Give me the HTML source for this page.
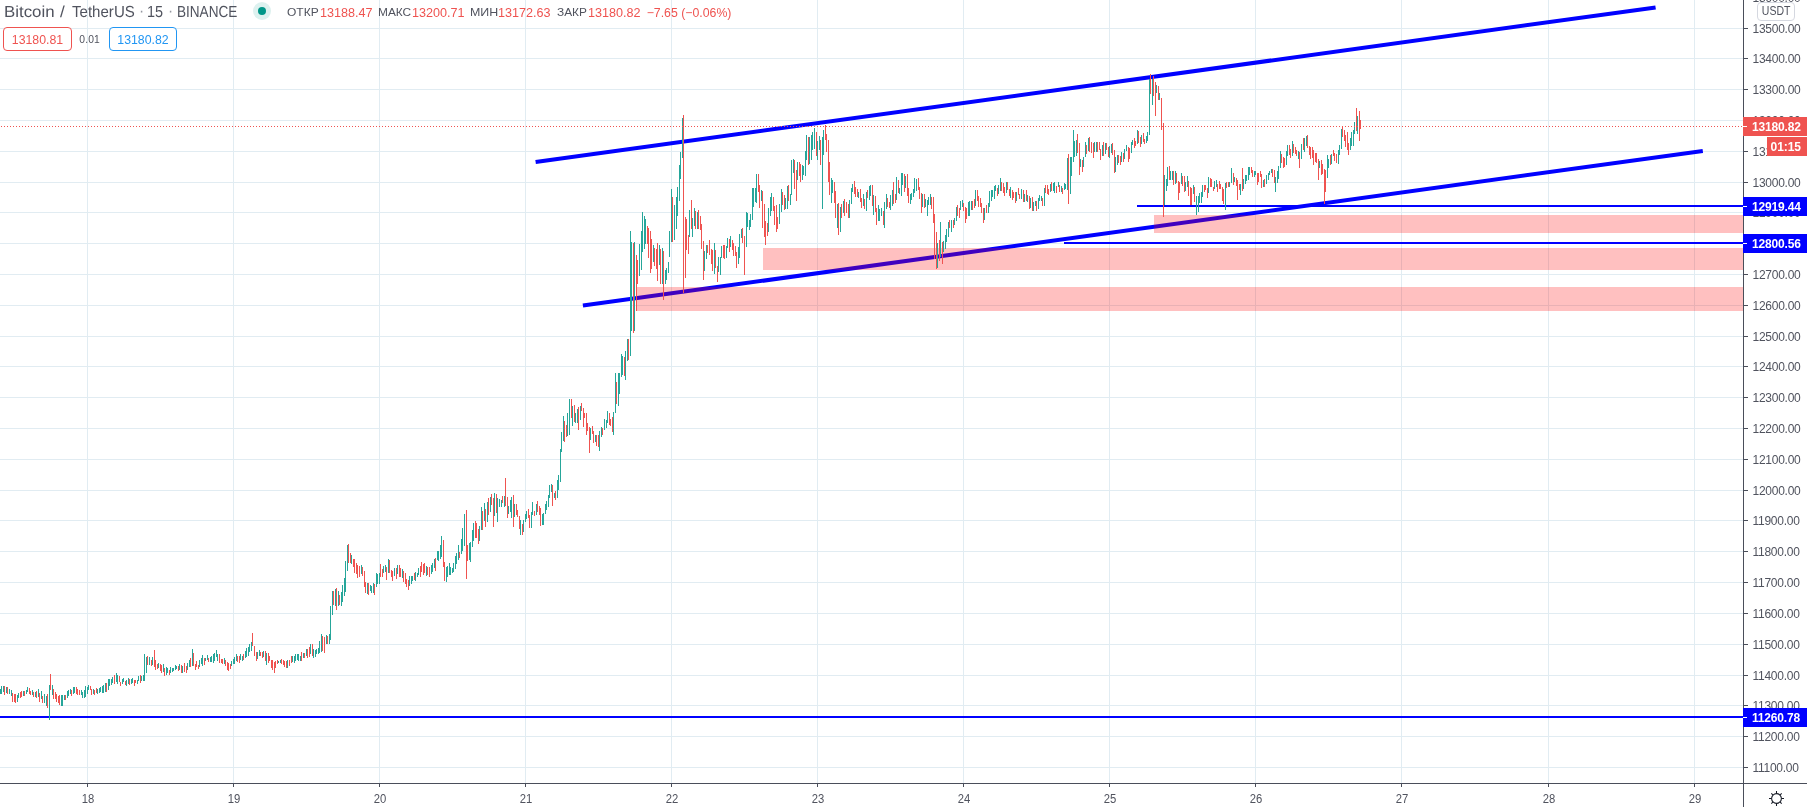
<!DOCTYPE html>
<html><head><meta charset="utf-8"><title>BTCUSDT</title>
<style>
html,body{margin:0;padding:0;background:#fff;}
body{width:1807px;height:807px;overflow:hidden;position:relative;font-family:"Liberation Sans",sans-serif;}
.pl{position:absolute;left:1752.5px;height:14px;line-height:14px;font-size:12px;color:#50535e;letter-spacing:-0.26px;white-space:nowrap;}
.tl{position:absolute;top:791.5px;width:40px;margin-left:-20px;text-align:center;height:14px;line-height:14px;font-size:12px;color:#50535e;white-space:nowrap;transform:scaleX(0.94);}
.lab{position:absolute;left:1743px;width:64px;height:19px;line-height:21px;font-size:12px;font-weight:bold;color:#fff;white-space:nowrap;box-sizing:border-box;padding-left:9px;letter-spacing:-0.17px;overflow:hidden;}
.lab i{position:absolute;left:0px;top:9px;width:4px;height:1px;background:#fff;}
.h{position:absolute;white-space:nowrap;}
</style></head><body><div id="root" style="position:absolute;left:0;top:0;width:1807px;height:807px;will-change:transform;opacity:0.999">
<svg width="1807" height="807" viewBox="0 0 1807 807" style="position:absolute;left:0;top:0">
<path d="M0 767.5H1743M0 736.5H1743M0 705.5H1743M0 675.5H1743M0 644.5H1743M0 613.5H1743M0 582.5H1743M0 551.5H1743M0 520.5H1743M0 490.5H1743M0 459.5H1743M0 428.5H1743M0 397.5H1743M0 366.5H1743M0 336.5H1743M0 305.5H1743M0 274.5H1743M0 243.5H1743M0 212.5H1743M0 182.5H1743M0 151.5H1743M0 120.5H1743M0 89.5H1743M0 58.5H1743M0 28.5H1743M87.5 0V783M233.5 0V783M379.5 0V783M525.5 0V783M671.5 0V783M817.5 0V783M963.5 0V783M1109.5 0V783M1255.5 0V783M1401.5 0V783M1548.5 0V783M1694.5 0V783" stroke="#e1ecf2" stroke-width="1" fill="none" shape-rendering="crispEdges"/>
<g stroke="#0000ff" fill="none">
<line x1="535.6" y1="162.1" x2="1655.6" y2="7.4" stroke-width="4"/>
<line x1="582.9" y1="305.6" x2="1702.8" y2="150.9" stroke-width="4"/>
<path d="M1137 206H1743M1064 243H1743M0 717H1743" stroke-width="2" shape-rendering="crispEdges"/>
</g>
<g fill="rgba(255,0,0,0.25)" shape-rendering="crispEdges">
<rect x="1154" y="215" width="589" height="18"/>
<rect x="763" y="248" width="980" height="22"/>
<rect x="636" y="287" width="1107" height="24"/>
</g>
<path d="M0.5 689V694M1.5 686V694M3.5 686V692M6.5 687V693M9.5 689V694M11.5 690V696M17.5 695V702M18.5 693V698M23.5 691V696M26.5 690V694M27.5 687V692M32.5 690V695M35.5 692V697M38.5 689V697M41.5 691V699M44.5 694V703M46.5 696V706M49.5 685V720M52.5 685V695M61.5 695V706M62.5 695V706M64.5 695V700M67.5 691V698M68.5 690V696M70.5 689V694M73.5 687V694M74.5 687V693M81.5 690V695M82.5 692V698M84.5 690V698M85.5 686V697M87.5 687V694M88.5 685V690M93.5 689V694M97.5 689V694M99.5 688V693M100.5 687V692M102.5 686V693M103.5 685V693M105.5 683V692M108.5 679V690M109.5 679V686M111.5 679V685M112.5 677V683M116.5 673V682M117.5 675V684M122.5 679V684M123.5 678V682M126.5 680V686M128.5 678V684M131.5 679V684M132.5 678V683M137.5 680V684M138.5 676V681M141.5 676V681M143.5 675V681M144.5 654V681M146.5 657V673M149.5 657V665M152.5 657V665M158.5 663V668M163.5 664V672M166.5 667V675M167.5 668V673M170.5 667V673M172.5 668V672M173.5 668V671M175.5 665V670M176.5 666V669M179.5 664V670M182.5 666V673M187.5 663V670M189.5 660V667M192.5 649V666M199.5 660V667M201.5 658V664M202.5 655V666M205.5 658V661M207.5 655V660M210.5 657V662M211.5 656V662M213.5 654V663M214.5 653V661M216.5 650V657M217.5 654V661M224.5 658V664M231.5 661V666M233.5 659V664M234.5 657V664M236.5 654V661M240.5 654V660M242.5 656V661M245.5 651V658M246.5 648V657M248.5 647V656M249.5 644V652M251.5 642V651M257.5 652V659M259.5 650V656M263.5 651V657M266.5 653V665M278.5 661V663M280.5 660V663M287.5 660V668M292.5 656V662M294.5 656V663M295.5 654V661M297.5 654V660M298.5 654V661M300.5 656V661M303.5 653V658M306.5 649V656M310.5 644V654M313.5 649V658M315.5 650V657M316.5 649V654M318.5 648V654M319.5 641V653M321.5 634V652M326.5 635V644M329.5 634V644M330.5 606V640M332.5 591V615M335.5 589V606M338.5 591V606M341.5 592V606M342.5 585V602M344.5 578V596M345.5 561V592M347.5 545V571M351.5 555V564M361.5 565V574M367.5 583V594M370.5 585V591M371.5 586V593M373.5 583V593M376.5 573V587M377.5 574V584M379.5 573V584M383.5 566V573M385.5 565V572M388.5 559V573M394.5 568V576M397.5 565V574M402.5 569V578M409.5 576V586M411.5 576V584M412.5 576V581M415.5 572V581M417.5 573V577M418.5 568V575M426.5 566V576M431.5 565V574M432.5 563V572M434.5 559V568M437.5 551V560M438.5 551V561M440.5 545V559M441.5 536V557M446.5 567V582M447.5 566V577M449.5 563V575M450.5 567V575M452.5 568V573M453.5 563V572M455.5 556V569M456.5 553V564M458.5 545V560M461.5 539V554M462.5 528V551M464.5 514V546M469.5 543V560M470.5 542V562M472.5 530V547M473.5 523V541M479.5 526V541M481.5 507V530M484.5 503V521M487.5 502V522M490.5 497V512M494.5 493V516M497.5 498V522M499.5 499V507M501.5 500V507M504.5 496V507M508.5 506V514M510.5 500V512M511.5 497V518M514.5 504V517M520.5 520V535M523.5 520V532M525.5 514V522M526.5 511V519M531.5 512V528M532.5 502V515M536.5 504V515M542.5 514V525M543.5 513V525M545.5 504V514M546.5 501V510M548.5 495V507M549.5 485V498M551.5 484V492M554.5 493V498M557.5 480V498M558.5 475V490M560.5 449V482M561.5 432V452M563.5 416V441M567.5 413V436M569.5 399V435M572.5 406V426M575.5 413V423M577.5 409V423M580.5 406V420M590.5 428V440M595.5 435V442M599.5 431V451M601.5 427V437M604.5 419V430M606.5 420V428M607.5 411V423M613.5 412V435M615.5 373V413M618.5 373V406M619.5 373V394M621.5 354V377M622.5 356V375M625.5 351V380M627.5 339V361M630.5 231V356M631.5 242V331M634.5 242V331M639.5 244V276M641.5 231V270M642.5 212V252M644.5 216V249M645.5 219V244M653.5 245V262M659.5 245V265M662.5 248V284M665.5 270V284M666.5 268V280M668.5 262V273M669.5 231V257M671.5 189V242M674.5 205V240M676.5 197V229M677.5 187V216M679.5 165V201M680.5 152V179M682.5 118V158M689.5 210V237M692.5 218V237M694.5 208V226M697.5 212V229M704.5 251V271M706.5 245V259M714.5 243V274M718.5 257V272M720.5 257V275M721.5 246V258M726.5 246V258M727.5 238V248M730.5 236V247M738.5 247V264M739.5 234V258M741.5 229V238M746.5 212V247M747.5 213V227M749.5 220V230M750.5 214V227M752.5 188V220M753.5 188V207M755.5 188V202M756.5 174V203M761.5 190V201M768.5 208V232M770.5 197V216M771.5 193V211M779.5 204V224M781.5 189V212M785.5 198V209M787.5 186V209M790.5 194V205M791.5 160V195M793.5 159V173M797.5 162V180M802.5 165V180M803.5 166V175M805.5 151V176M806.5 135V160M809.5 137V164M811.5 135V160M812.5 132V150M814.5 128V149M817.5 141V160M819.5 136V150M822.5 137V209M823.5 130V155M831.5 178V203M832.5 180V193M837.5 204V228M840.5 207V232M843.5 201V213M849.5 200V218M851.5 188V204M852.5 184V192M858.5 192V198M863.5 194V206M866.5 192V211M869.5 186V200M870.5 185V196M873.5 195V215M878.5 205V221M879.5 209V221M881.5 208V216M884.5 202V228M886.5 194V209M890.5 195V210M892.5 190V206M896.5 177V200M899.5 188V194M901.5 173V196M902.5 173V185M905.5 176V188M910.5 194V204M911.5 193V200M913.5 189V197M914.5 178V193M916.5 179V191M922.5 194V207M925.5 199V207M927.5 200V216M928.5 197V205M930.5 194V205M937.5 243V268M940.5 222V257M943.5 241V252M945.5 235V249M946.5 229V242M948.5 222V237M951.5 220V232M954.5 218V225M956.5 207V221M960.5 201V210M962.5 200V207M968.5 202V216M969.5 201V216M971.5 201V210M975.5 190V206M984.5 208V220M988.5 203V213M989.5 191V207M991.5 190V201M992.5 190V197M994.5 186V199M995.5 185V191M998.5 185V194M1000.5 178V191M1006.5 182V193M1010.5 187V198M1016.5 192V201M1021.5 189V199M1024.5 194V202M1027.5 195V202M1030.5 198V208M1033.5 202V211M1035.5 201V206M1038.5 198V209M1039.5 195V201M1041.5 196V201M1044.5 188V206M1050.5 184V192M1053.5 183V191M1054.5 182V193M1058.5 182V187M1061.5 186V192M1064.5 183V190M1065.5 184V189M1067.5 158V190M1070.5 157V194M1071.5 157V176M1073.5 130V162M1074.5 141V157M1076.5 140V156M1080.5 159V167M1083.5 157V167M1085.5 142V157M1088.5 138V151M1094.5 142V152M1096.5 142V152M1102.5 145V156M1105.5 143V154M1109.5 146V158M1111.5 144V153M1115.5 157V172M1117.5 155V165M1121.5 152V162M1124.5 149V159M1126.5 145V151M1131.5 142V153M1132.5 140V145M1137.5 130V144M1141.5 135V144M1146.5 136V143M1147.5 132V141M1149.5 79V135M1152.5 79V105M1156.5 85V93M1159.5 93V100M1164.5 175V205M1166.5 179V191M1167.5 167V186M1170.5 171V180M1172.5 171V180M1175.5 171V184M1181.5 173V184M1185.5 182V191M1187.5 176V187M1193.5 185V194M1196.5 196V215M1198.5 196V212M1199.5 193V203M1201.5 192V203M1202.5 185V197M1208.5 177V193M1214.5 181V189M1216.5 180V187M1225.5 183V210M1229.5 182V187M1231.5 168V183M1234.5 177V182M1240.5 184V195M1243.5 179V189M1245.5 175V184M1246.5 175V181M1248.5 167V180M1249.5 167V175M1254.5 171V177M1255.5 171V175M1263.5 180V187M1266.5 175V184M1268.5 173V180M1269.5 171V175M1271.5 169V173M1275.5 177V192M1277.5 171V183M1278.5 166V179M1280.5 151V168M1286.5 151V165M1287.5 145V156M1292.5 141V156M1298.5 151V159M1301.5 144V159M1304.5 138V152M1306.5 136V146M1319.5 161V168M1327.5 155V178M1328.5 159V168M1331.5 154V164M1338.5 150V164M1339.5 145V155M1341.5 129V149M1350.5 138V150M1351.5 132V146M1353.5 130V146M1354.5 122V134M1357.5 116V134" stroke="#26a69a" stroke-width="1" fill="none" shape-rendering="crispEdges"/>
<path d="M4.5 686V695M7.5 687V694M12.5 693V702M14.5 694V702M15.5 694V703M20.5 692V698M21.5 691V697M24.5 691V696M29.5 688V694M30.5 691V695M33.5 692V697M36.5 691V698M39.5 693V702M42.5 696V703M47.5 694V708M50.5 674V690M53.5 689V699M55.5 692V699M56.5 694V702M58.5 696V703M59.5 695V705M65.5 695V700M71.5 690V696M76.5 687V694M77.5 689V695M79.5 690V695M90.5 686V690M91.5 689V695M94.5 690V695M96.5 688V693M106.5 683V692M114.5 675V684M119.5 676V682M120.5 682V686M125.5 681V685M129.5 679V685M134.5 680V686M135.5 680V683M140.5 675V683M147.5 656V665M151.5 660V666M154.5 650V667M155.5 660V670M157.5 664V669M160.5 664V671M161.5 665V673M164.5 668V676M169.5 670V675M178.5 666V671M181.5 665V673M184.5 663V672M186.5 666V673M190.5 658V667M193.5 653V666M195.5 664V670M196.5 661V667M198.5 665V669M204.5 658V665M208.5 658V662M219.5 654V663M221.5 659V663M222.5 659V664M225.5 660V666M227.5 662V670M228.5 663V671M230.5 664V669M237.5 656V662M239.5 656V663M243.5 654V660M252.5 633V646M254.5 646V656M256.5 652V661M260.5 652V656M262.5 652V658M265.5 651V661M268.5 653V663M269.5 656V661M271.5 660V668M272.5 660V670M274.5 662V673M275.5 661V668M277.5 660V664M281.5 659V664M283.5 660V665M284.5 661V667M286.5 661V668M289.5 660V666M291.5 656V663M301.5 652V661M304.5 653V658M307.5 649V658M309.5 647V657M312.5 644V656M322.5 636V651M324.5 637V653M327.5 636V644M333.5 591V605M336.5 588V610M339.5 595V605M348.5 544V563M350.5 553V563M353.5 559V567M354.5 559V573M356.5 563V574M357.5 565V578M359.5 566V577M362.5 567V576M364.5 571V587M365.5 582V593M368.5 583V595M374.5 584V595M380.5 564V577M382.5 569V577M386.5 567V580M389.5 560V573M391.5 570V577M392.5 571V581M396.5 568V579M399.5 565V577M400.5 568V577M403.5 571V582M405.5 573V584M406.5 579V587M408.5 580V590M414.5 573V580M420.5 566V577M421.5 562V572M423.5 564V575M424.5 563V573M427.5 567V575M429.5 567V577M435.5 558V571M443.5 540V567M444.5 562V581M459.5 552V558M466.5 510V579M467.5 545V561M475.5 521V538M476.5 523V538M478.5 529V544M482.5 511V530M485.5 509V527M488.5 498V515M491.5 494V505M493.5 498V527M496.5 494V513M502.5 496V503M505.5 478V506M507.5 497V518M513.5 495V527M516.5 504V515M517.5 510V517M519.5 516V529M522.5 524V535M528.5 509V518M529.5 515V528M534.5 511V516M537.5 501V512M539.5 506V515M540.5 508V526M552.5 485V506M555.5 491V500M564.5 421V442M566.5 425V437M571.5 399V418M574.5 405V422M578.5 407V430M581.5 403V411M583.5 408V427M584.5 413V418M586.5 413V435M587.5 423V431M589.5 427V453M592.5 426V434M593.5 431V443M596.5 435V446M598.5 435V447M602.5 428V435M609.5 413V425M610.5 419V426M612.5 417V432M616.5 382V404M624.5 357V376M628.5 339V360M633.5 243V333M636.5 255V311M637.5 260V284M647.5 226V244M648.5 228V258M650.5 231V273M651.5 239V269M654.5 248V266M656.5 249V269M657.5 243V281M660.5 249V284M663.5 251V300M672.5 197V242M683.5 115V293M685.5 217V278M686.5 219V250M688.5 235V254M691.5 200V229M695.5 211V229M698.5 210V229M700.5 216V230M701.5 224V249M703.5 241V280M707.5 245V253M709.5 240V255M711.5 249V264M712.5 250V271M715.5 250V268M717.5 266V282M723.5 245V258M724.5 245V259M729.5 239V252M732.5 240V250M733.5 243V256M735.5 246V256M736.5 252V268M742.5 228V243M744.5 236V275M758.5 174V192M759.5 185V208M762.5 191V228M764.5 204V237M765.5 221V245M767.5 223V236M773.5 197V211M774.5 206V225M776.5 205V232M777.5 217V229M782.5 192V205M784.5 195V210M788.5 185V201M794.5 160V189M796.5 170V201M799.5 162V176M800.5 164V182M808.5 137V165M816.5 132V156M820.5 140V165M825.5 125V140M826.5 134V152M828.5 140V182M829.5 162V195M834.5 182V203M835.5 191V218M838.5 203V235M841.5 204V218M844.5 199V216M846.5 202V213M848.5 204V218M854.5 181V194M855.5 187V197M857.5 189V197M860.5 189V202M861.5 198V208M864.5 199V209M867.5 190V198M872.5 185V206M875.5 196V212M876.5 208V225M883.5 211V225M887.5 198V207M889.5 202V208M893.5 182V204M895.5 194V203M898.5 180V193M904.5 174V192M907.5 174V196M908.5 188V203M918.5 178V190M919.5 187V199M921.5 193V213M924.5 194V208M931.5 197V209M933.5 197V223M934.5 214V259M936.5 232V269M939.5 240V261M942.5 242V264M949.5 220V228M953.5 220V228M957.5 205V216M959.5 208V218M963.5 203V211M965.5 207V223M966.5 208V219M972.5 201V210M974.5 199V208M977.5 190V201M978.5 196V207M980.5 198V207M981.5 203V213M983.5 208V223M986.5 205V213M997.5 188V196M1001.5 182V191M1003.5 183V193M1004.5 187V196M1007.5 182V190M1009.5 189V196M1012.5 190V200M1013.5 192V198M1015.5 192V203M1018.5 188V195M1019.5 194V199M1023.5 190V202M1026.5 190V201M1029.5 196V209M1032.5 197V211M1036.5 201V211M1042.5 198V206M1045.5 185V193M1047.5 185V194M1048.5 189V195M1051.5 182V191M1056.5 186V193M1059.5 185V192M1062.5 188V194M1068.5 154V204M1077.5 134V153M1079.5 143V175M1082.5 160V172M1086.5 145V154M1089.5 137V152M1091.5 142V153M1093.5 143V158M1097.5 142V152M1099.5 142V150M1100.5 149V160M1103.5 142V156M1106.5 143V150M1108.5 147V157M1112.5 143V155M1114.5 150V173M1118.5 155V163M1120.5 156V165M1123.5 153V162M1128.5 147V162M1129.5 148V159M1134.5 138V148M1135.5 141V146M1138.5 131V143M1140.5 137V147M1143.5 133V142M1144.5 139V144M1150.5 74V94M1153.5 76V96M1155.5 82V116M1158.5 86V100M1161.5 98V130M1163.5 123V217M1169.5 166V180M1173.5 171V185M1176.5 173V183M1178.5 181V200M1179.5 182V193M1182.5 176V186M1184.5 176V192M1188.5 181V196M1190.5 187V205M1191.5 188V205M1194.5 187V202M1204.5 185V192M1205.5 185V190M1207.5 188V198M1210.5 178V187M1211.5 179V187M1213.5 187V191M1217.5 184V192M1219.5 181V189M1220.5 184V189M1222.5 187V201M1223.5 189V204M1226.5 182V188M1228.5 182V187M1233.5 173V185M1236.5 178V186M1237.5 180V200M1239.5 184V190M1242.5 168V191M1251.5 167V173M1252.5 170V177M1257.5 173V185M1258.5 173V182M1260.5 171V177M1261.5 174V188M1264.5 179V187M1272.5 169V177M1274.5 170V183M1281.5 154V163M1283.5 157V168M1284.5 158V167M1289.5 145V155M1290.5 149V158M1293.5 144V153M1295.5 147V154M1296.5 150V156M1299.5 152V168M1303.5 138V150M1307.5 135V148M1309.5 146V155M1310.5 147V159M1312.5 147V158M1313.5 150V165M1315.5 153V162M1316.5 153V163M1318.5 159V180M1321.5 160V175M1322.5 164V174M1324.5 169V204M1325.5 170V192M1330.5 155V165M1333.5 150V156M1334.5 153V161M1336.5 154V163M1342.5 126V137M1344.5 130V141M1345.5 135V147M1347.5 132V150M1348.5 143V155M1356.5 108V131M1359.5 111V141M1360.5 120V129" stroke="#ef5350" stroke-width="1" fill="none" shape-rendering="crispEdges"/>
<path d="M1 126.5H1743" stroke="#ef5350" stroke-width="1" stroke-dasharray="1 2" fill="none" shape-rendering="crispEdges"/>
<path d="M1743.5 0V807M0 783.5H1807M1744 767.5h4M1744 736.5h4M1744 705.5h4M1744 675.5h4M1744 644.5h4M1744 613.5h4M1744 582.5h4M1744 551.5h4M1744 520.5h4M1744 490.5h4M1744 459.5h4M1744 428.5h4M1744 397.5h4M1744 366.5h4M1744 336.5h4M1744 305.5h4M1744 274.5h4M1744 243.5h4M1744 212.5h4M1744 182.5h4M1744 151.5h4M1744 120.5h4M1744 89.5h4M1744 58.5h4M1744 28.5h4M87.5 784v3M233.5 784v3M379.5 784v3M525.5 784v3M671.5 784v3M817.5 784v3M963.5 784v3M1109.5 784v3M1255.5 784v3M1401.5 784v3M1548.5 784v3M1694.5 784v3" stroke="#4a4e5a" stroke-width="1" fill="none" shape-rendering="crispEdges"/>
<circle cx="1776.5" cy="798.5" r="4.9" fill="none" stroke="#131722" stroke-width="1.05"/>
<path d="M1781.70 798.50L1784.00 798.50M1780.18 802.18L1781.66 803.66M1776.50 803.70L1776.50 806.00M1772.82 802.18L1771.34 803.66M1771.30 798.50L1769.00 798.50M1772.82 794.82L1771.34 793.34M1776.50 793.30L1776.50 791.00M1780.18 794.82L1781.66 793.34" stroke="#131722" stroke-width="1.05" fill="none"/>
</svg>
<div class="pl" style="top:760.5px">11100.00</div>
<div class="pl" style="top:729.5px">11200.00</div>
<div class="pl" style="top:698.5px">11300.00</div>
<div class="pl" style="top:668.5px">11400.00</div>
<div class="pl" style="top:637.5px">11500.00</div>
<div class="pl" style="top:606.5px">11600.00</div>
<div class="pl" style="top:575.5px">11700.00</div>
<div class="pl" style="top:544.5px">11800.00</div>
<div class="pl" style="top:513.5px">11900.00</div>
<div class="pl" style="top:483.5px">12000.00</div>
<div class="pl" style="top:452.5px">12100.00</div>
<div class="pl" style="top:421.5px">12200.00</div>
<div class="pl" style="top:390.5px">12300.00</div>
<div class="pl" style="top:359.5px">12400.00</div>
<div class="pl" style="top:329.5px">12500.00</div>
<div class="pl" style="top:298.5px">12600.00</div>
<div class="pl" style="top:267.5px">12700.00</div>
<div class="pl" style="top:236.5px">12800.00</div>
<div class="pl" style="top:205.5px">12900.00</div>
<div class="pl" style="top:175.5px">13000.00</div>
<div class="pl" style="top:144.5px">13100.00</div>
<div class="pl" style="top:113.5px">13200.00</div>
<div class="pl" style="top:82.5px">13300.00</div>
<div class="pl" style="top:51.5px">13400.00</div>
<div class="pl" style="top:21.5px">13500.00</div>
<div class="pl" style="top:-9.5px">13600.00</div>
<div style="position:absolute;left:1757px;top:2px;width:38px;height:19px;box-sizing:border-box;border:1px solid #d5d8e0;border-radius:4px;background:#fff;font-size:12.6px;line-height:16px;text-align:center;color:#50535e;"><span style="display:inline-block;transform:scaleX(0.835)">USDT</span></div>
<div class="lab" style="top:117.0px;background:#ef5350"><i></i>13180.82</div>
<div style="position:absolute;left:1767px;top:137px;width:40px;height:19px;line-height:21px;background:#ef5350;color:#fff;font-weight:bold;font-size:12px;box-sizing:border-box;padding-left:3.6px;letter-spacing:-0.1px;overflow:hidden">01:15</div>
<div class="lab" style="top:197.0px;background:#0000ff"><i></i>12919.44</div>
<div class="lab" style="top:234.0px;background:#0000ff"><i></i>12800.56</div>
<div class="lab" style="top:708.0px;background:#0000ff"><i></i>11260.78</div>
<div class="tl" style="left:87.5px">18</div>
<div class="tl" style="left:233.5px">19</div>
<div class="tl" style="left:379.5px">20</div>
<div class="tl" style="left:525.5px">21</div>
<div class="tl" style="left:671.5px">22</div>
<div class="tl" style="left:817.5px">23</div>
<div class="tl" style="left:963.5px">24</div>
<div class="tl" style="left:1109.5px">25</div>
<div class="tl" style="left:1255.5px">26</div>
<div class="tl" style="left:1401.5px">27</div>
<div class="tl" style="left:1548.5px">28</div>
<div class="tl" style="left:1694.5px">29</div>
<div class="h" style="left:3.7px;top:2.5px;font-size:16px;line-height:18px;color:#50535e;letter-spacing:0px;transform-origin:0 14px;transform:rotate(0.05deg) scale(1.0513649999999999,1);">Bitcoin</div>
<div class="h" style="left:60.2px;top:2.5px;font-size:16px;line-height:18px;color:#50535e;letter-spacing:0px;transform-origin:0 14px;transform:rotate(0.05deg) scale(1.0659,1);">/</div>
<div class="h" style="left:72.4px;top:2.5px;font-size:16px;line-height:18px;color:#50535e;letter-spacing:0px;transform-origin:0 14px;transform:rotate(0.05deg) scale(0.9418679999999999,1);">TetherUS</div>
<div class="h" style="left:138.8px;top:2.5px;font-size:16px;line-height:18px;color:#9598a1;letter-spacing:0px;transform-origin:0 14px;transform:rotate(0.05deg) scale(0.969,1);"><span style="position:relative;top:-1px">·</span></div>
<div class="h" style="left:147.4px;top:2.5px;font-size:16px;line-height:18px;color:#50535e;letter-spacing:0px;transform-origin:0 14px;transform:rotate(0.05deg) scale(0.90117,1);">15</div>
<div class="h" style="left:167.9px;top:2.5px;font-size:16px;line-height:18px;color:#9598a1;letter-spacing:0px;transform-origin:0 14px;transform:rotate(0.05deg) scale(0.969,1);"><span style="position:relative;top:-1px">·</span></div>
<div class="h" style="left:176.6px;top:2.5px;font-size:16px;line-height:18px;color:#50535e;letter-spacing:0px;transform-origin:0 14px;transform:rotate(0.05deg) scale(0.8478749999999999,1);">BINANCE</div>
<div style="position:absolute;left:253px;top:2px;width:18px;height:18px;border-radius:9px;background:#ddf1ef"></div>
<div style="position:absolute;left:258px;top:7px;width:8px;height:8px;border-radius:4px;background:#009688"></div>
<div class="h" style="left:286.8px;top:3.2px;font-size:11px;line-height:18px;color:#50535e;letter-spacing:0px;transform-origin:0 14px;transform:rotate(0deg) scale(1.09,1);">ОТКР</div>
<div class="h" style="left:319.7px;top:3.8px;font-size:12.3px;line-height:18px;color:#ef5350;letter-spacing:0px;transform-origin:0 14px;transform:rotate(0deg) scale(1.025,1);">13188.47</div>
<div class="h" style="left:377.7px;top:3.2px;font-size:11px;line-height:18px;color:#50535e;letter-spacing:0px;transform-origin:0 14px;transform:rotate(0deg) scale(1.08,1);">МАКС</div>
<div class="h" style="left:412.2px;top:3.8px;font-size:12.3px;line-height:18px;color:#ef5350;letter-spacing:0px;transform-origin:0 14px;transform:rotate(0deg) scale(1.025,1);">13200.71</div>
<div class="h" style="left:469.90000000000003px;top:3.2px;font-size:11px;line-height:18px;color:#50535e;letter-spacing:0px;transform-origin:0 14px;transform:rotate(0deg) scale(1.13,1);">МИН</div>
<div class="h" style="left:498.2px;top:3.8px;font-size:12.3px;line-height:18px;color:#ef5350;letter-spacing:0px;transform-origin:0 14px;transform:rotate(0deg) scale(1.025,1);">13172.63</div>
<div class="h" style="left:556.5999999999999px;top:3.2px;font-size:11px;line-height:18px;color:#50535e;letter-spacing:0px;transform-origin:0 14px;transform:rotate(0deg) scale(1.08,1);">ЗАКР</div>
<div class="h" style="left:587.5999999999999px;top:3.8px;font-size:12.3px;line-height:18px;color:#ef5350;letter-spacing:0px;transform-origin:0 14px;transform:rotate(0deg) scale(1.025,1);">13180.82</div>
<div class="h" style="left:646.7px;top:3.8px;font-size:12.3px;line-height:18px;color:#ef5350;letter-spacing:0px;transform-origin:0 14px;transform:rotate(0deg) scale(1.0,1);">−7.65 (−0.06%)</div>
<div style="position:absolute;left:3px;top:27px;width:69px;height:24px;box-sizing:border-box;border:1px solid #ef5350;border-radius:4px;background:#fff;color:#ef5350;font-size:12.3px;line-height:24px;text-align:center">13180.81</div>
<div class="h" style="left:79.3px;top:33px;font-size:10.3px;line-height:14px;color:#50535e;letter-spacing:0.15px">0.01</div>
<div style="position:absolute;left:109px;top:27px;width:68px;height:24px;box-sizing:border-box;border:1px solid #2196f3;border-radius:4px;background:#fff;color:#2196f3;font-size:12.3px;line-height:24px;text-align:center">13180.82</div>
</div></body></html>
